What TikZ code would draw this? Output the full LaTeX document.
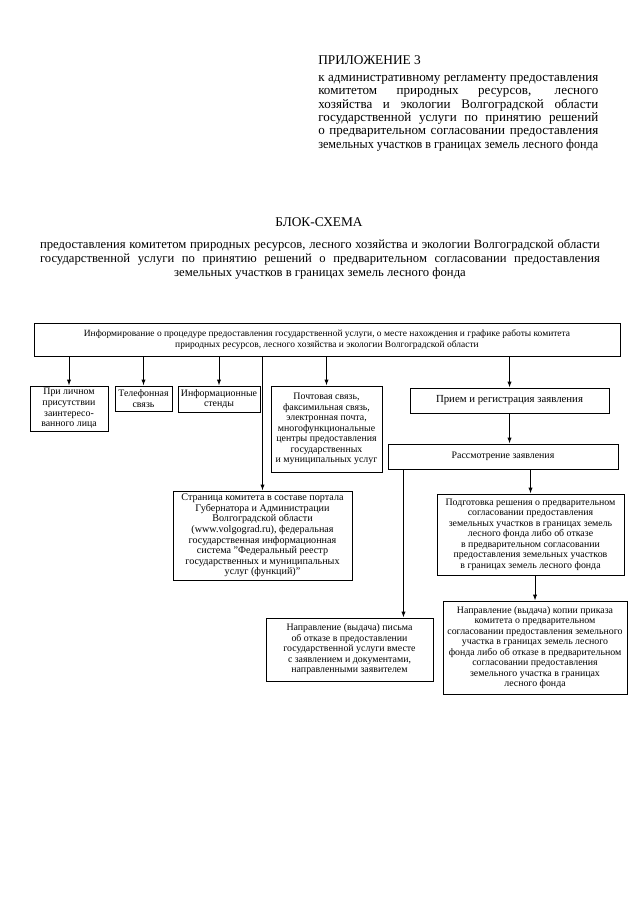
\documentclass[tikz,border=0pt]{standalone}
\usepackage{fontspec}
\usepackage{graphicx}
\setmainfont{Liberation Serif}
\usetikzlibrary{arrows.meta,calc}
\begin{document}
\begin{tikzpicture}[x=0.75pt,y=-0.75pt,
  bx/.style={draw,line width=0.7pt,inner sep=1pt,align=center,font=\fontsize{7.4}{7.9}\selectfont},
  arr/.style={line width=0.7pt,-{Latex[length=4.5pt,width=3.2pt]}},
  hdr/.style={inner sep=0pt,font=\fontsize{10}{10}\selectfont}]
\useasboundingbox (0,0) rectangle (640,905);
\fill[white] (0,0) rectangle (640,905);

% header
\node[hdr,anchor=west] (pril) at (318,60) {ПРИЛОЖЕНИЕ 3};
\node[inner sep=0pt,font=\fontsize{9.8}{10}\selectfont,anchor=north west,align=left] (reg) at (318,75) {%
\makebox[210pt][s]{к административному регламенту предоставления}\\
\makebox[210pt][s]{комитетом природных ресурсов, лесного}\\
\makebox[210pt][s]{хозяйства и экологии Волгоградской области}\\
\makebox[210pt][s]{государственной услуги по принятию решений}\\
\makebox[210pt][s]{о предварительном согласовании предоставления}\\
\resizebox{210pt}{\height}{земельных участков в границах земель лесного фонда}};

% title
\node[hdr] (t1) at (319,222) {БЛОК-СХЕМА};
\node[inner sep=0pt,anchor=north,align=center,font=\fontsize{9.5}{10.5}\selectfont] (t2) at (320,239) {%
\makebox[420pt][s]{предоставления комитетом природных ресурсов, лесного хозяйства и экологии Волгоградской области}\\
\makebox[420pt][s]{государственной услуги по принятию решений о предварительном согласовании предоставления}\\
земельных участков в границах земель лесного фонда};

% boxes
\node[bx,font=\fontsize{7.1}{8.2}\selectfont,minimum width=439.5pt,minimum height=24.75pt] (top) at (327,339.5)
 {Информирование о процедуре предоставления государственной услуги, о месте нахождения и графике работы комитета\\природных ресурсов, лесного хозяйства и экологии Волгоградской области};
\node[bx,minimum width=58.5pt,minimum height=33.75pt] (lich) at (69,408.5)
 {При личном\\присутствии\\заинтересо-\\ванного лица};
\node[bx,minimum width=42.75pt,minimum height=18.75pt] (tel) at (143.5,398.5)
 {Телефонная\\связь};
\node[bx,minimum width=61.5pt,minimum height=19.5pt] (inf) at (219,399)
 {Информационные\\стенды};
\node[bx,minimum width=83.25pt,minimum height=64.5pt] (pocht) at (326.5,429)
 {Почтовая связь,\\факсимильная связь,\\электронная почта,\\многофункциональные\\центры предоставления\\государственных\\и муниципальных услуг};
\node[bx,font=\fontsize{8.1}{8.5}\selectfont,minimum width=149.25pt,minimum height=18.75pt] (priem) at (509.5,400.5)
 {Прием и регистрация заявления};
\node[bx,minimum width=172.5pt,minimum height=18.75pt] (rassm) at (503,456.5)
 {Рассмотрение заявления};
\node[bx,minimum width=140.25pt,minimum height=60.75pt] (podg) at (530.5,534.5)
 {Подготовка решения о предварительном\\согласовании предоставления\\земельных участков в границах земель\\лесного фонда либо об отказе\\в предварительном согласовании\\предоставления земельных участков\\в границах земель лесного фонда};
\node[bx,font=\fontsize{7.6}{7.9}\selectfont,minimum width=134.25pt,minimum height=66.75pt] (stran) at (262.5,535.5)
 {Страница комитета в составе портала\\Губернатора и Администрации\\Волгоградской области\\(www.volgograd.ru), федеральная\\государственная информационная\\система "Федеральный реестр\\государственных и муниципальных\\услуг (функций)"};
\node[bx,minimum width=125.25pt,minimum height=47.25pt] (pismo) at (349.5,649.5)
 {Направление (выдача) письма\\об отказе в предоставлении\\государственной услуги вместе\\с заявлением и документами,\\направленными заявителем};
\node[bx,minimum width=138pt,minimum height=69.75pt] (kop) at (535,647.5)
 {Направление (выдача) копии приказа\\комитета о предварительном\\согласовании предоставления земельного\\участка в границах земель лесного\\фонда либо об отказе в предварительном\\согласовании предоставления\\земельного участка в границах\\лесного фонда};

\coordinate (pin) at ($(pismo.north east)+(-30,0)$);

% connectors
\draw[arr] (lich.north |- top.south) -- (lich.north);
\draw[arr] (tel.north |- top.south) -- (tel.north);
\draw[arr] (inf.north |- top.south) -- (inf.north);
\draw[arr] (stran.north |- top.south) -- (stran.north);
\draw[arr] (pocht.north |- top.south) -- (pocht.north);
\draw[arr] (priem.north |- top.south) -- (priem.north);
\draw[arr] (priem.south) -- (rassm.north -| priem.south);
\draw[arr] (podg.north |- rassm.south) -- (podg.north);
\draw[arr] (rassm.south -| pin) -- (pin);
\draw[arr] (kop.north |- podg.south) -- (kop.north);
\end{tikzpicture}
\end{document}
